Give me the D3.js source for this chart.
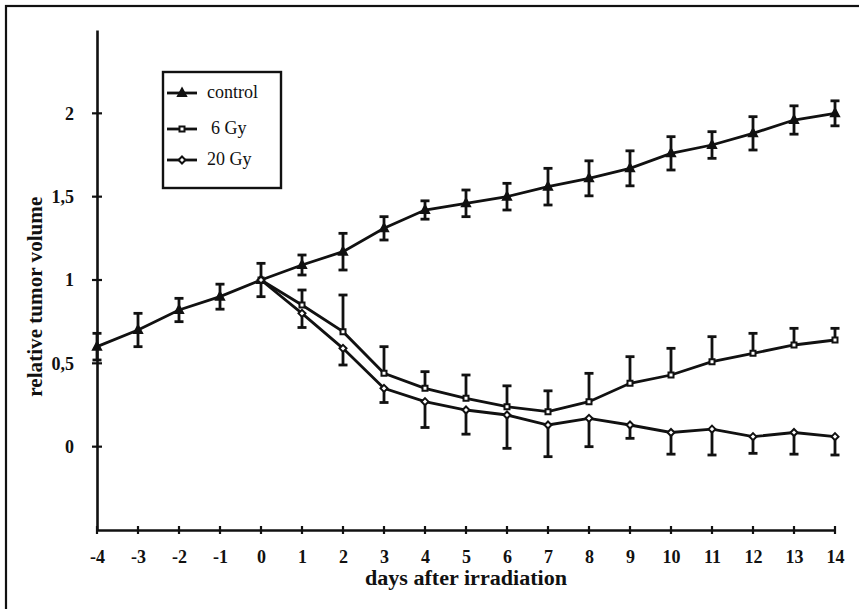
<!DOCTYPE html>
<html>
<head>
<meta charset="utf-8">
<script src="https://cdn.jsdelivr.net/npm/d3@7"></script>
<style>
  body { margin: 0; background: #fff; }
  svg text { font-family: "Liberation Serif", "DejaVu Serif", serif; fill: #111; }
</style>
</head>
<body>
<div id="chart"></div>
<script>
// Data
const days = [-4, -3, -2, -1, 0, 1, 2, 3, 4, 5, 6, 7, 8, 9, 10, 11, 12, 13, 14];
const controlMean = [0.6, 0.7, 0.82, 0.9, 1.0, 1.09, 1.17, 1.31, 1.42, 1.46, 1.5, 1.56, 1.61, 1.67, 1.76, 1.81, 1.88, 1.96, 2.0];
const controlErr = [0.08, 0.1, 0.07, 0.075, 0.1, 0.06, 0.11, 0.07, 0.055, 0.08, 0.08, 0.11, 0.105, 0.105, 0.1, 0.08, 0.1, 0.085, 0.075];

const treatedDays = [0, 1, 2, 3, 4, 5, 6, 7, 8, 9, 10, 11, 12, 13, 14];
const gy6Mean = [1.0, 0.85, 0.69, 0.44, 0.35, 0.29, 0.24, 0.21, 0.27, 0.38, 0.43, 0.51, 0.56, 0.61, 0.64];
const gy6Err = [0.1, 0.09, 0.22, 0.16, 0.1, 0.14, 0.125, 0.125, 0.17, 0.16, 0.16, 0.15, 0.12, 0.1, 0.07];
const gy20Mean = [1.0, 0.8, 0.59, 0.35, 0.27, 0.22, 0.19, 0.13, 0.17, 0.13, 0.085, 0.105, 0.06, 0.085, 0.06];
const gy20Err = [0.1, 0.085, 0.1, 0.085, 0.155, 0.145, 0.2, 0.19, 0.17, 0.08, 0.13, 0.155, 0.1, 0.13, 0.11];

const yTicks = [0, 0.5, 1, 1.5, 2];
const yTickLabels = ['0', '0,5', '1', '1,5', '2'];
const legendNames = ['control', '6 Gy', '20 Gy'];

const width = 859;
const height = 609;

const svg = d3.select('#chart').append('svg')
    .attr('width', width)
    .attr('height', height);

// outer frame (only left and top edges visible)
svg.append('rect')
    .attr('x', 6).attr('y', 6)
    .attr('width', 900).attr('height', 700)
    .attr('fill', 'none').attr('stroke', '#111').attr('stroke-width', 2.2);

const xScale = d3.scaleLinear().domain([-4, 14]).range([97, 835]);
const yScale = d3.scaleLinear().domain([-0.5, 2.5]).range([530, 30]);

const ink = '#111';

// Axes
const xAxis = d3.axisBottom(xScale).tickValues(days).tickSize(0).tickPadding(20)
    .tickFormat(d => d);
const yAxis = d3.axisLeft(yScale).tickValues(yTicks).tickSize(0).tickPadding(23)
    .tickFormat((d, i) => yTickLabels[i]);

const xAxisGroup = svg.append('g')
    .attr('transform', `translate(0, ${yScale(-0.5)})`)
    .call(xAxis);
const yAxisGroup = svg.append('g')
    .attr('transform', `translate(${xScale(-4)}, 0)`)
    .call(yAxis);

[xAxisGroup, yAxisGroup].forEach(g => {
    g.select('.domain').attr('stroke', ink).attr('stroke-width', 2.6);
    g.selectAll('.tick text')
        .attr('font-size', 18)
        .attr('font-weight', 'bold')
        .attr('font-family', '"Liberation Serif", serif')
        .attr('fill', ink);
});

// crossing tick marks
svg.append('g').selectAll('line').data(days).enter().append('line')
    .attr('x1', d => xScale(d)).attr('x2', d => xScale(d))
    .attr('y1', yScale(-0.5) - 4).attr('y2', yScale(-0.5) + 4)
    .attr('stroke', ink).attr('stroke-width', 2.2);
svg.append('g').selectAll('line').data(yTicks).enter().append('line')
    .attr('x1', xScale(-4) - 5).attr('x2', xScale(-4) + 5)
    .attr('y1', d => yScale(d)).attr('y2', d => yScale(d))
    .attr('stroke', ink).attr('stroke-width', 2.2);

// Axis titles
svg.append('text')
    .text('days after irradiation')
    .attr('x', 466).attr('y', 585)
    .attr('text-anchor', 'middle')
    .attr('textLength', 202).attr('lengthAdjust', 'spacingAndGlyphs')
    .attr('font-size', 20).attr('font-weight', 'bold');

svg.append('text')
    .text('relative tumor volume')
    .attr('transform', `translate(42, ${yScale(0.9)}) rotate(-90)`)
    .attr('text-anchor', 'middle')
    .attr('textLength', 200).attr('lengthAdjust', 'spacingAndGlyphs')
    .attr('font-size', 20).attr('font-weight', 'bold');

// Series
const series = [
    { name: 'control', x: days, mean: controlMean, err: controlErr, dir: 'both', marker: 'triangle' },
    { name: '6 Gy', x: treatedDays, mean: gy6Mean, err: gy6Err, dir: 'up', marker: 'square' },
    { name: '20 Gy', x: treatedDays, mean: gy20Mean, err: gy20Err, dir: 'down', marker: 'diamond' }
];

const line = d3.line().x(d => xScale(d.x)).y(d => yScale(d.y));
const capW = 4.5;

const markerPath = (type, cx, cy) => {
    if (type === 'triangle') return `M${cx},${cy - 4.5}L${cx + 4},${cy + 3}L${cx - 4},${cy + 3}Z`;
    if (type === 'square') return `M${cx - 2.5},${cy - 2.5}h5v5h-5Z`;
    return `M${cx},${cy - 3.5}L${cx + 3.5},${cy}L${cx},${cy + 3.5}L${cx - 3.5},${cy}Z`;
};

const plot = svg.append('g');

series.forEach(s => {
    const pts = s.x.map((x, i) => ({ x, y: s.mean[i], e: s.err[i] }));
    const g = plot.append('g');

    // error bars
    pts.forEach(p => {
        if (s.dir !== 'both' && p.x === 0) return;
        const top = s.dir === 'down' ? p.y : p.y + p.e;
        const bot = s.dir === 'up' ? p.y : p.y - p.e;
        const cx = xScale(p.x);
        g.append('line')
            .attr('x1', cx).attr('x2', cx)
            .attr('y1', yScale(top)).attr('y2', yScale(bot))
            .attr('stroke', ink).attr('stroke-width', 2.8);
        if (s.dir !== 'down') {
            g.append('line')
                .attr('x1', cx - capW).attr('x2', cx + capW)
                .attr('y1', yScale(top)).attr('y2', yScale(top))
                .attr('stroke', ink).attr('stroke-width', 2.8);
        }
        if (s.dir !== 'up') {
            g.append('line')
                .attr('x1', cx - capW).attr('x2', cx + capW)
                .attr('y1', yScale(bot)).attr('y2', yScale(bot))
                .attr('stroke', ink).attr('stroke-width', 2.8);
        }
    });

    g.append('path')
        .datum(pts)
        .attr('d', line)
        .attr('fill', 'none')
        .attr('stroke', ink)
        .attr('stroke-width', 2.8);

    g.selectAll('path.mk').data(pts).enter().append('path')
        .attr('class', 'mk')
        .attr('d', d => markerPath(s.marker, xScale(d.x), yScale(d.y)))
        .attr('fill', s.marker === 'triangle' ? ink : '#fff')
        .attr('stroke', ink)
        .attr('stroke-width', 2);
});

// Legend
const legend = svg.append('g');
legend.append('rect')
    .attr('x', 163).attr('y', 72)
    .attr('width', 118).attr('height', 116)
    .attr('fill', '#fff').attr('stroke', ink).attr('stroke-width', 2.4);

const legendY = [93, 129, 160];
series.forEach((s, i) => {
    const y = legendY[i];
    legend.append('line')
        .attr('x1', 167).attr('x2', 197)
        .attr('y1', y).attr('y2', y)
        .attr('stroke', ink).attr('stroke-width', 2.8);
    legend.append('path')
        .attr('d', markerPath(s.marker, 182, y))
        .attr('fill', s.marker === 'triangle' ? ink : '#fff')
        .attr('stroke', ink).attr('stroke-width', 2);
    legend.append('text')
        .text(legendNames[i])
        .attr('x', i === 1 ? 211 : 207)
        .attr('y', y + 5)
        .attr('font-size', 18);
});
</script>
</body>
</html>
